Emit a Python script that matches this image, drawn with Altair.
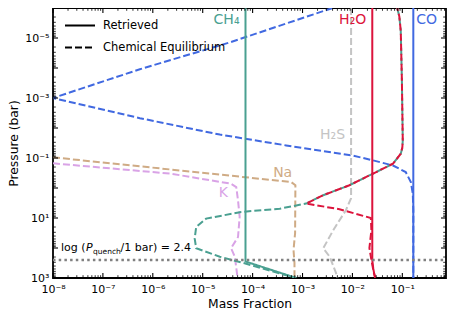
import altair as alt
import pandas as pd

# ---------------- data (mass fraction X, pressure P in bar) ----------------
CO_RET_X = [0.166, 0.166]
CO_RET_P = [1e-6, 1e3]

H2O_RET_X = [0.025, 0.025, 0.0262, 0.0285]
H2O_RET_P = [1e-6, 251, 500, 1000]

CH4_RET_X = [7.2e-5, 7.2e-5, 7.5e-4]
CH4_RET_P = [1e-6, 282, 1000]

# shared upper part of CH4 / H2O equilibrium profiles
EQ_TOP_X = [0.079, 0.087, 0.093, 0.098, 0.102, 0.100, 0.093, 0.065, 0.026, 0.0087, 0.0026, 0.00118]
EQ_TOP_P = [1e-6, 1.9e-6, 5.8e-6, 2.6e-4, 0.026, 0.045, 0.072, 0.155, 0.33, 0.81, 1.74, 3.3]

CH4_EQ_X = EQ_TOP_X + [3.5e-4, 5.9e-5, 1.17e-5, 7.4e-6, 6.9e-6, 7.4e-6, 2.2e-5, 6.9e-5, 7.4e-4]
CH4_EQ_P = EQ_TOP_P + [4.9, 6.3, 10.5, 20, 48, 102, 195, 324, 1000]

H2O_EQ_X = EQ_TOP_X + [0.0055, 0.0234, 0.024, 0.0219, 0.024, 0.0269, 0.0288]
H2O_EQ_P = EQ_TOP_P + [5.1, 10, 26, 100, 251, 676, 1000]

CO_EQ_X = [0.004, 3.5e-5, 5.5e-7, 1e-8, 5.5e-7, 2.2e-5, 4.7e-4, 0.0102, 0.026, 0.065,
           0.117, 0.148, 0.162, 0.166, 0.166]
CO_EQ_P = [1e-6, 1.4e-5, 1.1e-4, 1e-3, 4.7e-3, 0.0166, 0.038, 0.083, 0.12, 0.178,
           0.295, 0.63, 1.55, 5.5, 1000]

H2S_EQ_X = [0.0094, 0.0094, 0.0074, 0.0041, 0.0026, 0.0035, 0.0047, 0.005]
H2S_EQ_P = [1e-6, 2.2, 5.5, 26, 102, 195, 690, 1000]

NA_EQ_X = [1e-8, 5.9e-4, 7.2e-4, 7.1e-4, 6.6e-4, 6.9e-4, 6.9e-4]
NA_EQ_P = [0.095, 0.63, 0.81, 32, 117, 316, 1000]

K_EQ_X = [1e-8, 2.2e-6, 3.7e-5, 4.7e-5, 5.1e-5, 5.5e-5, 5.1e-5, 3.7e-5, 4.4e-5, 5.0e-5]
K_EQ_P = [0.15, 0.33, 0.72, 0.93, 2.6, 9.1, 43, 102, 195, 1000]

LOG_P_QUENCH = 2.4

SPECIES = ["CO", "H2O", "CH4", "H2S", "Na", "K"]
COLORS = ["#4169e1", "#dc143c", "#4aa091", "#c4c4c4", "#cfab85", "#d9a3e6"]
KINDS = ["Retrieved", "Chemical Equilibrium"]

# species labels
LABEL_TEXT = ["CH₄", "H₂O", "H₂S", "CO", "Na", "K"]
LABEL_SPECIES = ["CH4", "H2O", "H2S", "CO", "Na", "K"]
LABEL_X = [7.2e-5, 0.025, 0.0094, 0.166, 4.0e-4, 2.6e-5]
LABEL_P = [2.5e-6, 2.5e-6, 0.017, 2.5e-6, 0.316, 1.47]
LABEL_ALIGN = ["right", "right", "right", "left", "center", "center"]

# tick values
X_MAJOR = [10.0 ** e for e in range(-8, 0)]
X_MINOR = [k * 10.0 ** e for e in range(-8, 0) for k in range(2, 10) if k * 10.0 ** e <= 0.75]
Y_MAJOR = [10.0 ** e for e in range(-6, 4)]
Y_MINOR = [k * 10.0 ** e for e in range(-6, 3) for k in range(2, 10)]
Y_LABELS = [1e-5, 1e-3, 1e-1, 1e1, 1e3]

# ---------------- build tables ----------------
series = [
    ("CO", "Chemical Equilibrium", CO_EQ_X, CO_EQ_P),
    ("H2S", "Chemical Equilibrium", H2S_EQ_X, H2S_EQ_P),
    ("Na", "Chemical Equilibrium", NA_EQ_X, NA_EQ_P),
    ("K", "Chemical Equilibrium", K_EQ_X, K_EQ_P),
    ("CH4", "Chemical Equilibrium", CH4_EQ_X, CH4_EQ_P),
    ("H2O", "Chemical Equilibrium", H2O_EQ_X, H2O_EQ_P),
    ("CH4", "Retrieved", CH4_RET_X, CH4_RET_P),
    ("H2O", "Retrieved", H2O_RET_X, H2O_RET_P),
    ("CO", "Retrieved", CO_RET_X, CO_RET_P),
]
rows = []
for sp, kind, xs, ps in series:
    for i, (xv, pv) in enumerate(zip(xs, ps)):
        rows.append({"species": sp, "kind": kind, "sid": sp + kind, "order": i, "x": xv, "y": pv})
df = pd.DataFrame(rows)

W, H = 393, 270

xscale = alt.Scale(type="log", domain=[1e-8, 0.75], nice=False)
yscale = alt.Scale(type="log", domain=[1e-6, 1e3], nice=False, reverse=True)

sup = "['⁰','¹','²','³','⁴','⁵','⁶','⁷','⁸','⁹']"
lexp = ("'10' + (round(log(datum.value)/LN10) < 0 ? '⁻' : '') + " + sup +
        "[abs(round(log(datum.value)/LN10))]")

xaxis = alt.Axis(values=X_MAJOR, labelExpr=lexp, ticks=False, domain=False, grid=False,
                 labelFontSize=11, labelColor="black", labelPadding=5, labelFlush=False,
                 labelOverlap=False, title="Mass Fraction", titleFontSize=12.3,
                 titleFontWeight="normal", titleColor="black", titlePadding=3)
yaxis = alt.Axis(values=Y_LABELS, labelExpr=lexp, ticks=False, domain=False, grid=False,
                 labelFontSize=11, labelColor="black", labelPadding=4, labelFlush=False,
                 labelOverlap=False, title="Pressure (bar)", titleFontSize=12.3,
                 titleFontWeight="normal", titleColor="black", titlePadding=4)

X = alt.X("x:Q", scale=xscale, axis=xaxis)
Y = alt.Y("y:Q", scale=yscale, axis=yaxis)
COLOR = alt.Color("species:N", scale=alt.Scale(domain=SPECIES, range=COLORS), legend=None)
DASH = alt.StrokeDash(
    "kind:N",
    scale=alt.Scale(domain=KINDS, range=[[1, 0], [7, 3]]),
    legend=alt.Legend(title=None, orient="none", legendX=11, legendY=1.5, symbolType="stroke",
                      symbolStrokeColor="black", symbolStrokeWidth=2, symbolSize=900,
                      labelFontSize=11.5, labelColor="black", labelOffset=7, rowPadding=-8.5,
                      padding=0, symbolOffset=0),
)

base = alt.Chart(df)
layers = []
for sp, kind, _, _ in series:
    extra = {"strokeDashOffset": 4} if (sp == "H2O" and kind != "Retrieved") else {}
    layers.append(
        base.transform_filter(alt.datum.sid == sp + kind)
        .mark_line(strokeWidth=2, clip=True, **extra)
        .encode(x=X, y=Y, color=COLOR, strokeDash=DASH, order="order:Q")
    )

# quench line
qdf = pd.DataFrame({"y": [10 ** LOG_P_QUENCH]})
quench = alt.Chart(qdf).mark_rule(color="#808080", strokeWidth=2.5, strokeDash=[2.5, 3.2]).encode(
    y=Y, x=alt.value(0), x2=alt.value(W))

qt = pd.DataFrame({"x": [1e-8], "y": [10 ** LOG_P_QUENCH]})
qbase = alt.Chart(qt)
qtexts = [
    qbase.mark_text(text="log (", align="left", baseline="middle", fontSize=11, dx=8, dy=-12, color="black"),
    qbase.mark_text(text="P", align="left", baseline="middle", fontSize=11, fontStyle="italic", dx=33, dy=-12, color="black"),
    qbase.mark_text(text="quench", align="left", baseline="middle", fontSize=7.5, dx=40, dy=-8.5, color="black"),
    qbase.mark_text(text="/1 bar) = 2.4", align="left", baseline="middle", fontSize=11, dx=67.5, dy=-12, color="black"),
]
qtexts = [t.encode(x=X, y=Y) for t in qtexts]

# species labels
ldf = pd.DataFrame({"species": LABEL_SPECIES, "text": LABEL_TEXT, "x": LABEL_X, "y": LABEL_P, "align": LABEL_ALIGN})
lbase = alt.Chart(ldf)
labels = []
for al, dx in [("right", -6), ("left", 3), ("center", 0)]:
    labels.append(
        lbase.transform_filter(alt.datum.align == al)
        .mark_text(align=al, baseline="middle", fontSize=14, dx=dx)
        .encode(x=X, y=Y, text="text:N", color=COLOR)
    )

# inward ticks on all four sides
def xticks(vals, ln, w):
    d = pd.DataFrame({"x": vals})
    c = alt.Chart(d)
    return [
        c.mark_rule(color="black", strokeWidth=w).encode(x=X, y=alt.value(0), y2=alt.value(ln)),
        c.mark_rule(color="black", strokeWidth=w).encode(x=X, y=alt.value(H), y2=alt.value(H - ln)),
    ]

def yticks(vals, ln, w):
    d = pd.DataFrame({"y": vals})
    c = alt.Chart(d)
    return [
        c.mark_rule(color="black", strokeWidth=w).encode(y=Y, x=alt.value(0), x2=alt.value(ln)),
        c.mark_rule(color="black", strokeWidth=w).encode(y=Y, x=alt.value(W), x2=alt.value(W - ln)),
    ]

ticks = xticks(X_MAJOR, 5, 1.1) + xticks(X_MINOR, 2.8, 0.8) + yticks(Y_MAJOR, 5, 1.1) + yticks(Y_MINOR, 2.8, 0.8)

chart = alt.layer(*layers, quench, *qtexts, *labels, *ticks).properties(
    width=W, height=H,
    autosize=alt.AutoSizeParams(type="none"),
    padding={"left": 45, "top": 0, "right": 1, "bottom": 33},
).configure(font="DejaVu Sans").configure_view(stroke="black", strokeWidth=1.8)

chart.save("out.html", embed_options={"renderer": "svg", "actions": False})
